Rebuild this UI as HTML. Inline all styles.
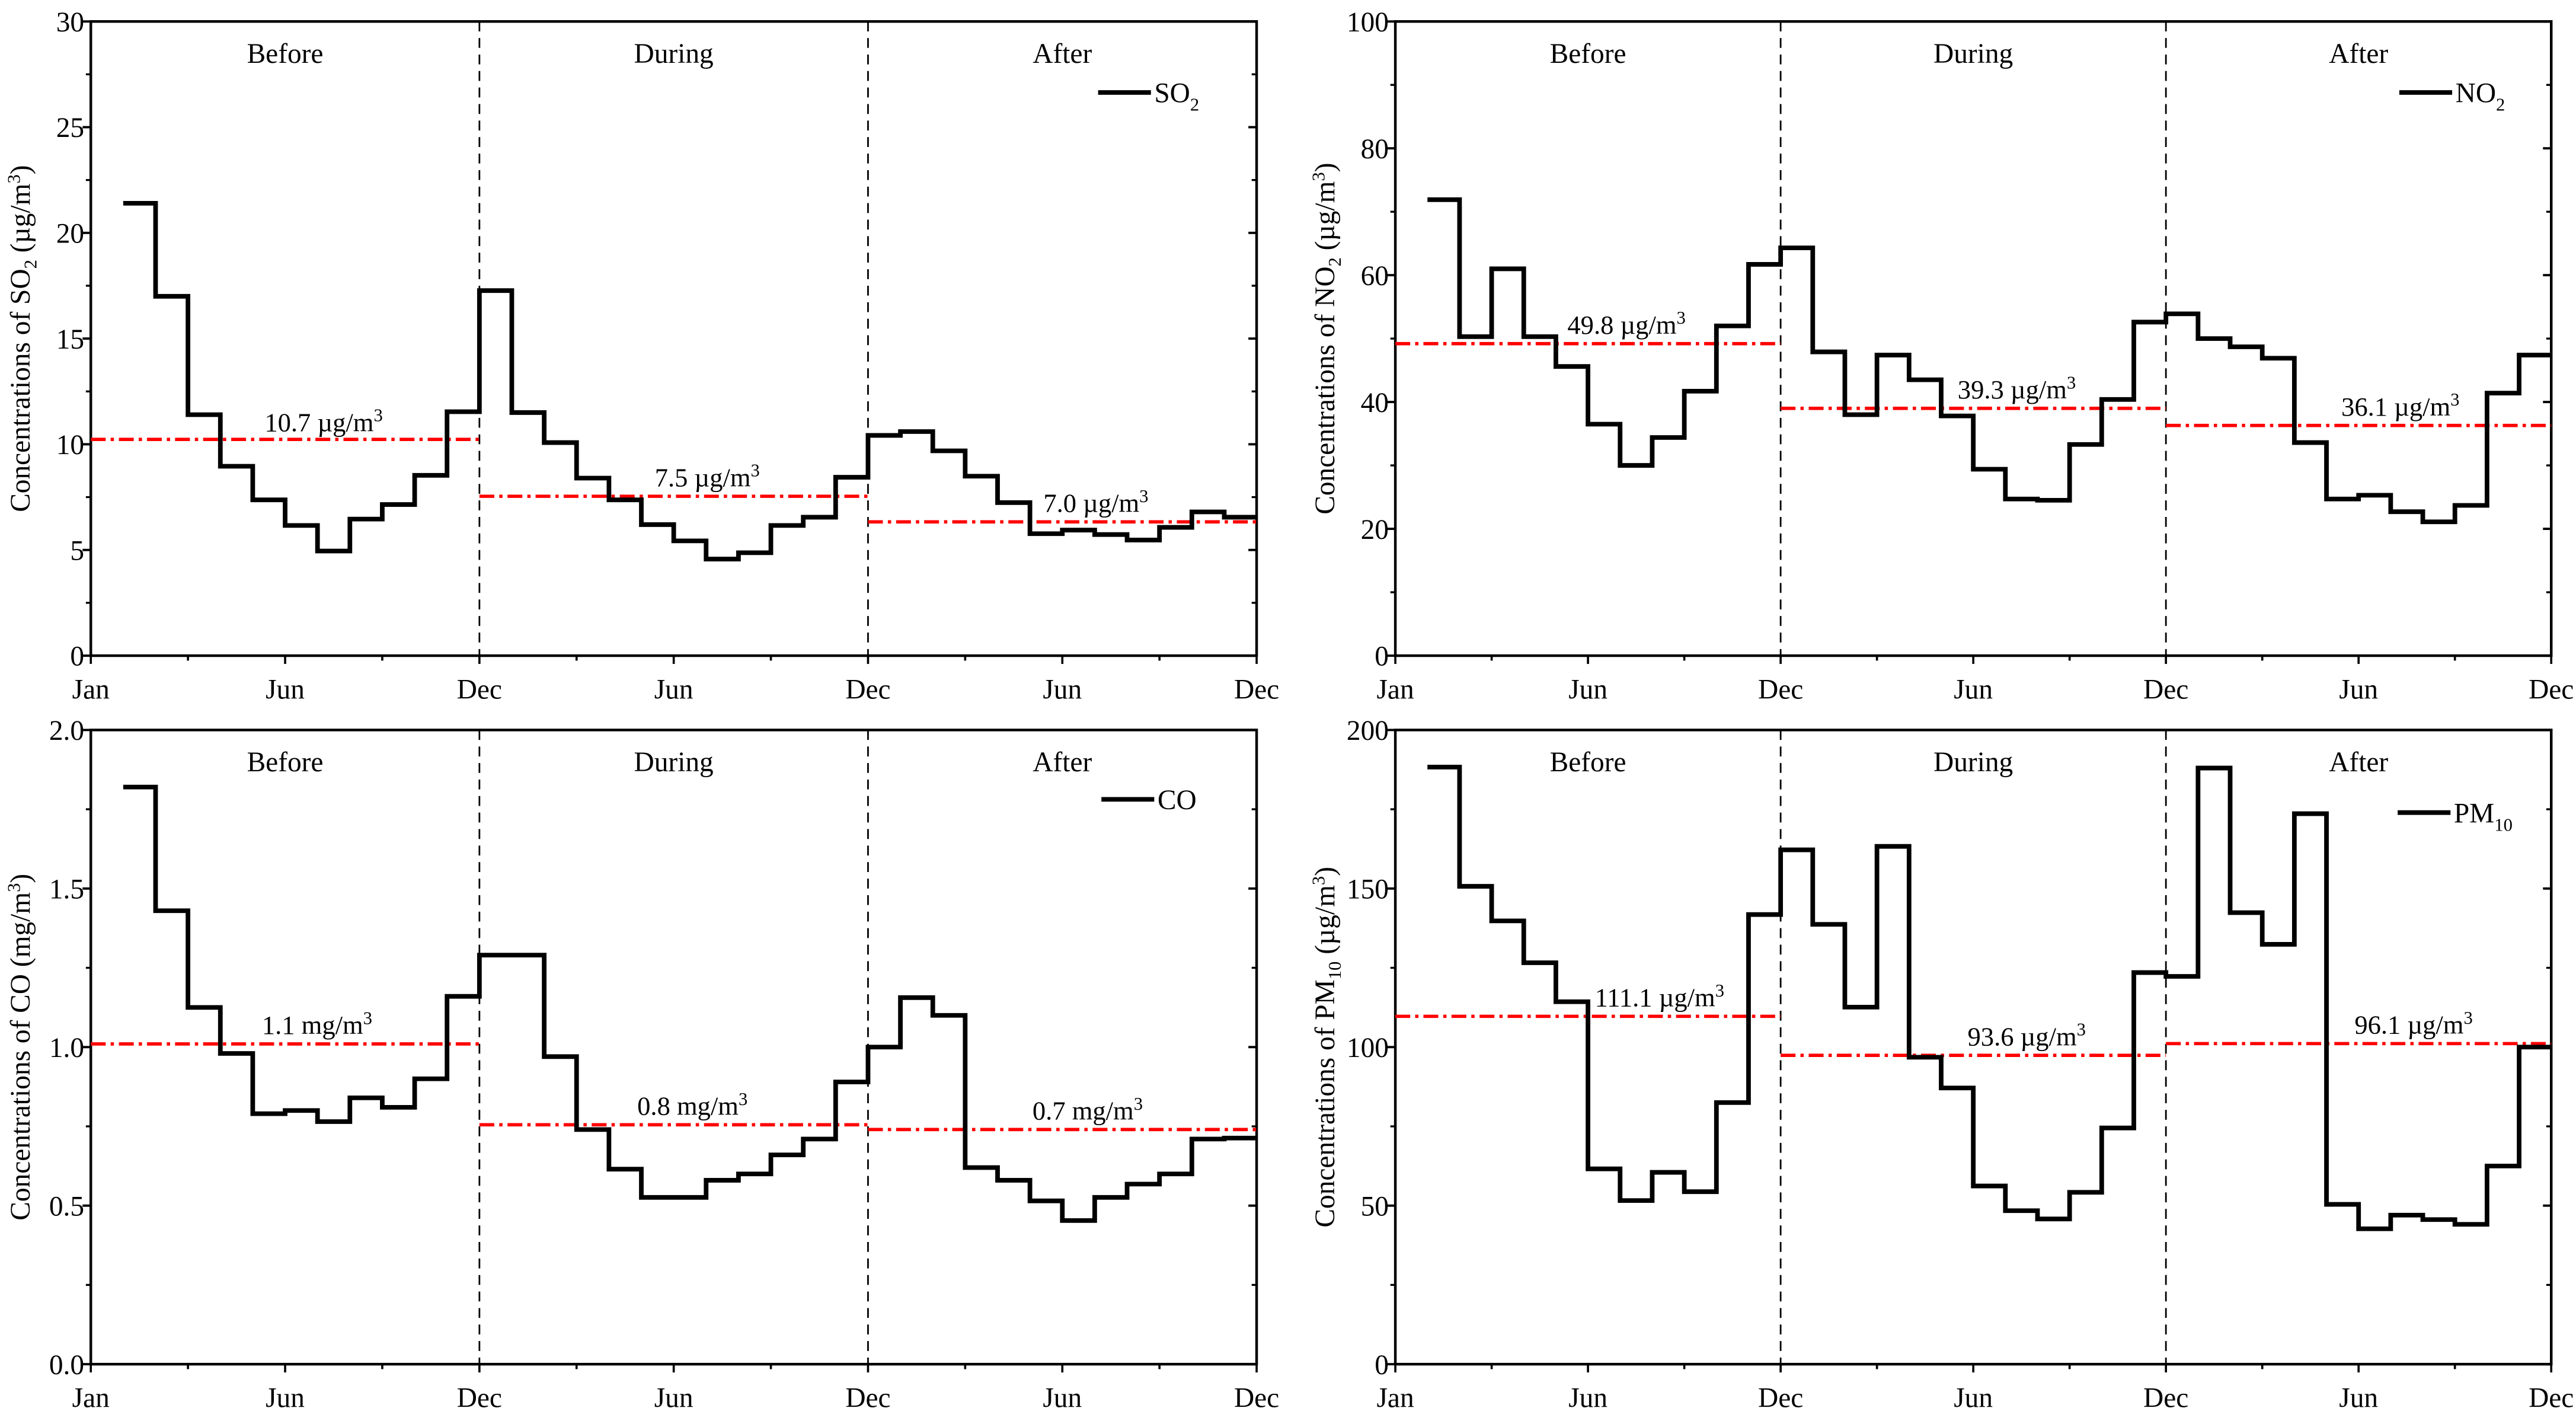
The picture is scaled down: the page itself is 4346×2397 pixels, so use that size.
<!DOCTYPE html>
<html><head><meta charset="utf-8"><style>
html,body{margin:0;padding:0;background:#fff;}
svg{display:block;font-family:"Liberation Serif","Times New Roman",serif;}
svg text{font-family:"Liberation Serif","Times New Roman",serif;fill:#000;}
</style></head><body>
<svg id="chart" xmlns="http://www.w3.org/2000/svg" width="4346" height="2397" viewBox="0 0 1560 860.4" font-family="Liberation Serif, Times New Roman, serif"></svg>
<script>
const periodLabels = ["Before","During","After"];
const xTickLabels = ["Jan","Jun","Dec","Jun","Dec","Jun","Dec"];
const so2Values = [21.4,17.0,11.4,8.96,7.37,6.16,4.95,6.46,7.15,8.53,11.54,17.27,11.5,10.08,8.4,7.37,6.2,5.43,4.57,4.87,6.16,6.55,8.44,10.42,10.6,9.69,8.49,7.24,5.77,5.94,5.73,5.47,6.07,6.8,6.55];
const so2Means = [10.23,7.54,6.33];
const so2MeanLabels = ["10.7","7.5","7.0"];
const so2Ticks = [0,5,10,15,20,25,30];
const no2Values = [71.9,50.3,61.0,50.3,45.6,36.5,30.0,34.4,41.7,52.0,61.7,64.3,47.9,38.0,47.4,43.5,37.8,29.4,24.7,24.5,33.3,40.4,52.6,53.9,50.0,48.7,46.9,33.6,24.7,25.3,22.7,21.1,23.7,41.4,47.4];
const no2Means = [49.2,39.0,36.3];
const no2MeanLabels = ["49.8","39.3","36.1"];
const no2Ticks = [0,20,40,60,80,100];
const coValues = [1.82,1.43,1.125,0.98,0.79,0.80,0.765,0.84,0.81,0.90,1.16,1.29,1.29,0.97,0.74,0.615,0.526,0.526,0.58,0.60,0.66,0.71,0.89,1.0,1.156,1.10,0.62,0.58,0.515,0.453,0.526,0.568,0.60,0.71,0.713];
const coMeans = [1.01,0.755,0.74];
const coMeanLabels = ["1.1","0.8","0.7"];
const coTicks = [0,0.5,1.0,1.5,2.0];
const pmValues = [188.3,150.7,139.8,126.6,114.3,61.6,51.6,60.5,54.4,82.5,141.8,162.2,138.7,112.6,163.3,96.8,87.1,56.2,48.4,45.8,54.2,74.5,123.5,122.3,188,142.4,132.4,173.6,50.4,42.7,47,45.6,44.1,62.5,100];
const pmMeans = [109.7,97.4,101.1];
const pmMeanLabels = ["111.1","93.6","96.1"];
const pmTicks = [0,50,100,150,200];

const NS="http://www.w3.org/2000/svg";
const svg=document.getElementById('chart');
const FF='Liberation Serif, Times New Roman, serif';
function mk(tag,attrs,parent){const e=document.createElementNS(NS,tag);for(const k in attrs)e.setAttribute(k,attrs[k]);if(tag==='text')e.setAttribute('font-family',FF);(parent||svg).appendChild(e);return e;}

function panel(cfg){
  const g=mk('g',{});
  
  
  const L=cfg.L,R=cfg.R,T=cfg.T,B=cfg.B;
  const ymax=cfg.ticks[cfg.ticks.length-1];
  const sx=m=>L+(R-L)*m/36;
  const sy=v=>B-(B-T)*v/ymax;
  const fr=mk('rect',{x:L,y:T,width:R-L,height:B-T,fill:'none',stroke:'#000','stroke-width':1.6},g);
  
  
  cfg.ticks.forEach((t,i)=>{
    const y=sy(t);
    mk('line',{x1:L-5,x2:L,y1:y,y2:y,stroke:'#000','stroke-width':1.4},g);
    mk('line',{x1:R-5,x2:R,y1:y,y2:y,stroke:'#000','stroke-width':1.4},g);
    const tx=mk('text',{x:L-4,y:y+6,'text-anchor':'end','font-size':17},g);
    tx.textContent=cfg.fmt(t);
    
    
    if(i<cfg.ticks.length-1){
      const ym=sy((t+cfg.ticks[i+1])/2);
      mk('line',{x1:L-3,x2:L,y1:ym,y2:ym,stroke:'#000','stroke-width':1.2},g);
      mk('line',{x1:R-3,x2:R,y1:ym,y2:ym,stroke:'#000','stroke-width':1.2},g);
    }
  });
  for(let q=0;q<=12;q++){
    const x=sx(q*3);
    mk('line',{x1:x,x2:x,y1:B,y2:B+(q%2==0?5:3),stroke:'#000','stroke-width':1.3},g);
  }
  xTickLabels.forEach((lab,i)=>{
    const tx=mk('text',{x:sx(i*6),y:B+26,'text-anchor':'middle','font-size':17},g);
    tx.textContent=lab;
    
    
  });
  [12,24].forEach(m=>{
    const d=mk('line',{x1:sx(m),x2:sx(m),y1:T,y2:B,stroke:'#000','stroke-width':1,'stroke-dasharray':'6,4'},g);
    
    
  });
  periodLabels.forEach((p,i)=>{
    const tx=mk('text',{x:sx(i*12+6),y:T+25,'text-anchor':'middle','font-size':17},g);
    tx.textContent=p;
    
    
  });
  cfg.means.forEach((v,i)=>{
    const y=sy(v);
    const ml=mk('line',{x1:sx(i*12),x2:sx(i*12+12),y1:y,y2:y,stroke:'#ff0000','stroke-width':2,'stroke-dasharray':'9,3,2,3'},g);
    
    
    const tx=mk('text',{x:sx(i*12)+cfg.lblDx[i],y:y-cfg.lblDy[i],'text-anchor':'middle','font-size':16},g);
    
    
    tx.appendChild(document.createTextNode(cfg.meanLabels[i]+' '+cfg.unit+'/m'));
    const sup=mk('tspan',{dy:-6,'font-size':11},tx);sup.textContent='3';
  });
  let d='';
  cfg.values.forEach((v,i)=>{
    const x0=sx(i+1),x1=sx(i+2),y=sy(v);
    d+=(i==0?'M':'L')+x0+','+y+'L'+x1+','+y;
  });
  const p=mk('path',{d:d,fill:'none',stroke:'#000','stroke-width':2.8,'stroke-linejoin':'miter'},g);
  
  
  const lg=mk('g',{},g);
  
  
  mk('line',{x1:cfg.legX,x2:cfg.legX+32,y1:cfg.legY,y2:cfg.legY,stroke:'#000','stroke-width':2.8},lg);
  const lt=mk('text',{x:cfg.legX+34,y:cfg.legY+6,'font-size':17},lg);
  lt.appendChild(document.createTextNode(cfg.legMain));
  if(cfg.legSub){const s=mk('tspan',{dy:5,'font-size':11},lt);s.textContent=cfg.legSub;}
  const yt=mk('text',{transform:`translate(${L-37},${(T+B)/2}) rotate(-90)`,'text-anchor':'middle','font-size':17},g);
  
  
  yt.appendChild(document.createTextNode('Concentrations of '+cfg.legMain));
  if(cfg.legSub){const s=mk('tspan',{dy:4,'font-size':11},yt);s.textContent=cfg.legSub;const s2=mk('tspan',{dy:-4},yt);s2.textContent=' ('+cfg.unit+'/m';}
  else{yt.appendChild(document.createTextNode(' ('+cfg.unit+'/m'));}
  const s3=mk('tspan',{dy:-6,'font-size':11},yt);s3.textContent='3';
  const s4=mk('tspan',{dy:6},yt);s4.textContent=')';
}
const f0=t=>String(t), f1=t=>t.toFixed(1);
panel({name:'so2-panel',L:55,R:761,T:13,B:397,ticks:so2Ticks,fmt:f0,values:so2Values,means:so2Means,meanLabels:so2MeanLabels,unit:'\u00b5g',lblDx:[141,138,138],lblDy:[5,6,6],legX:665,legY:56,legMain:'SO',legSub:'2'});
panel({name:'no2-panel',L:845,R:1545,T:13,B:397,ticks:no2Ticks,fmt:f0,values:no2Values,means:no2Means,meanLabels:no2MeanLabels,unit:'\u00b5g',lblDx:[140,143,142],lblDy:[6,6,6],legX:1453,legY:56,legMain:'NO',legSub:'2'});
panel({name:'co-panel',L:55,R:761,T:442,B:826,ticks:coTicks,fmt:f1,values:coValues,means:coMeans,meanLabels:coMeanLabels,unit:'mg',lblDx:[137,129,133],lblDy:[6,6,6],legX:667,legY:484,legMain:'CO',legSub:''});
panel({name:'pm10-panel',L:845,R:1545,T:442,B:826,ticks:pmTicks,fmt:f0,values:pmValues,means:pmMeans,meanLabels:pmMeanLabels,unit:'\u00b5g',lblDx:[160,149,150],lblDy:[6,6,6],legX:1452,legY:492,legMain:'PM',legSub:'10'});
</script>
</body></html>
